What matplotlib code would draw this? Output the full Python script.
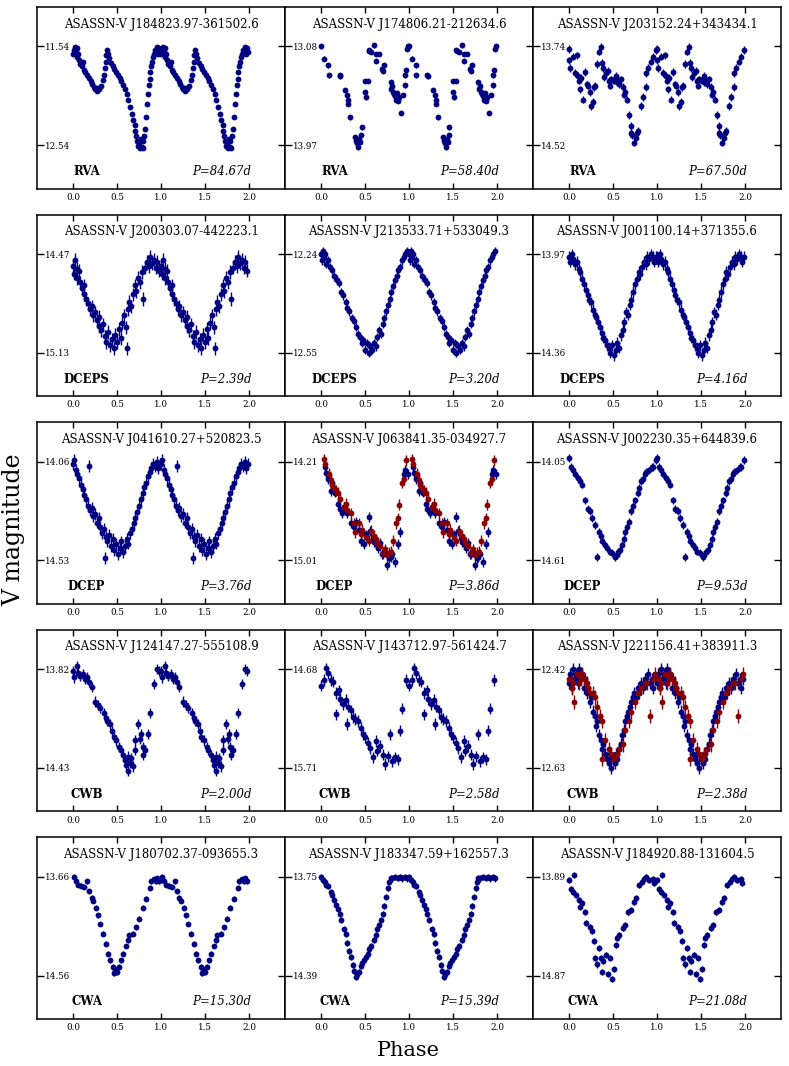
import matplotlib.pyplot as plt
import numpy as np

plt.rcParams['font.family'] = 'DejaVu Serif'

# ---- panel metadata (row by row) ----
star_names = ['ASASSN-V J184823.97-361502.6', 'ASASSN-V J174806.21-212634.6', 'ASASSN-V J203152.24+343434.1',
              'ASASSN-V J200303.07-442223.1', 'ASASSN-V J213533.71+533049.3', 'ASASSN-V J001100.14+371355.6',
              'ASASSN-V J041610.27+520823.5', 'ASASSN-V J063841.35-034927.7', 'ASASSN-V J002230.35+644839.6',
              'ASASSN-V J124147.27-555108.9', 'ASASSN-V J143712.97-561424.7', 'ASASSN-V J221156.41+383911.3',
              'ASASSN-V J180702.37-093655.3', 'ASASSN-V J183347.59+162557.3', 'ASASSN-V J184920.88-131604.5']
var_types = ['RVA', 'RVA', 'RVA', 'DCEPS', 'DCEPS', 'DCEPS', 'DCEP', 'DCEP', 'DCEP',
             'CWB', 'CWB', 'CWB', 'CWA', 'CWA', 'CWA']
periods = [84.67, 58.40, 67.50, 2.39, 3.20, 4.16, 3.76, 3.86, 9.53, 2.00, 2.58, 2.38, 15.30, 15.39, 21.08]
tick_bright = [11.54, 13.08, 13.74, 14.47, 12.24, 13.97, 14.06, 14.21, 14.05, 13.82, 14.68, 12.42, 13.66, 13.75, 13.89]
tick_faint = [12.54, 13.97, 14.52, 15.13, 12.55, 14.36, 14.53, 15.01, 14.61, 14.43, 15.71, 12.63, 14.56, 14.39, 14.87]
mag_errs = [0.02, 0.02, 0.03, 0.045, 0.013, 0.022, 0.028, 0.04, 0.022, 0.032, 0.06, 0.013, 0.022, 0.02, 0.03]

# ---- phased light curves (phase 0-1, drawn twice) ----
ph_01 = [0.00, 0.01, 0.02, 0.03, 0.04, 0.05, 0.06, 0.07, 0.08, 0.10, 0.11, 0.12, 0.14, 0.16, 0.18, 0.20, 0.22, 0.24,
         0.25, 0.27, 0.28, 0.30, 0.32, 0.34, 0.35, 0.36, 0.37, 0.38, 0.39, 0.40, 0.41, 0.43, 0.45, 0.47, 0.49, 0.51,
         0.53, 0.55, 0.57, 0.59, 0.61, 0.63, 0.65, 0.67, 0.68, 0.70, 0.71, 0.72, 0.73, 0.74, 0.75, 0.76, 0.77, 0.78,
         0.79, 0.80, 0.81, 0.82, 0.83, 0.84, 0.85, 0.86, 0.87, 0.88, 0.89, 0.90, 0.91, 0.92, 0.93, 0.94, 0.95, 0.96,
         0.97, 0.98, 0.99]
mag_01 = [11.62, 11.58, 11.55, 11.60, 11.65, 11.56, 11.62, 11.68, 11.72, 11.74, 11.70, 11.78, 11.80, 11.83, 11.86,
          11.89, 11.92, 11.95, 11.97, 11.99, 11.96, 11.97, 11.94, 11.88, 11.83, 11.76, 11.70, 11.63, 11.58, 11.62,
          11.66, 11.71, 11.74, 11.77, 11.80, 11.83, 11.86, 11.89, 11.93, 11.97, 12.02, 12.08, 12.15, 12.22, 12.28,
          12.34, 12.40, 12.45, 12.50, 12.55, 12.52, 12.57, 12.48, 12.56, 12.50, 12.57, 12.45, 12.38, 12.25, 12.12,
          12.02, 11.93, 11.87, 11.80, 11.74, 11.70, 11.65, 11.62, 11.58, 11.60, 11.55, 11.58, 11.62, 11.56, 11.60]

ph_02 = [0.00, 0.035, 0.08, 0.085, 0.21, 0.22, 0.27, 0.30, 0.305, 0.31, 0.325, 0.39, 0.40, 0.41, 0.42, 0.43, 0.44,
         0.455, 0.46, 0.50, 0.505, 0.51, 0.53, 0.54, 0.55, 0.57, 0.60, 0.62, 0.63, 0.66, 0.69, 0.71, 0.72, 0.79,
         0.80, 0.81, 0.82, 0.83, 0.84, 0.85, 0.86, 0.87, 0.88, 0.89, 0.91, 0.93, 0.95, 0.96, 0.97, 0.98, 0.99]
mag_02 = [13.08, 13.19, 13.25, 13.34, 13.34, 13.35, 13.47, 13.52, 13.56, 13.60, 13.72, 13.90, 13.93, 13.95, 13.99,
          13.91, 13.94, 13.88, 13.81, 13.39, 13.49, 13.54, 13.39, 13.11, 13.12, 13.13, 13.07, 13.15, 13.21, 13.15,
          13.28, 13.30, 13.25, 13.40, 13.46, 13.44, 13.49, 13.51, 13.53, 13.56, 13.50, 13.57, 13.55, 13.54, 13.68,
          13.52, 13.43, 13.34, 13.29, 13.10, 13.08]

ph_03 = [0.00, 0.005, 0.01, 0.05, 0.07, 0.09, 0.10, 0.11, 0.13, 0.14, 0.16, 0.18, 0.20, 0.22, 0.24, 0.25, 0.27, 0.28,
         0.30, 0.32, 0.34, 0.36, 0.375, 0.39, 0.42, 0.45, 0.48, 0.51, 0.54, 0.56, 0.59, 0.61, 0.64, 0.66, 0.68, 0.70,
         0.71, 0.72, 0.74, 0.76, 0.77, 0.78, 0.82, 0.84, 0.87, 0.88, 0.90, 0.93, 0.96, 0.99,
         0.40, 0.44, 0.47, 0.53, 0.57, 0.62]
mag_03 = [13.76, 13.85, 13.91, 13.82, 13.95, 13.81, 13.97, 14.01, 14.08, 13.99, 14.16, 13.94, 14.04, 14.05, 14.10,
          14.21, 14.18, 14.06, 14.05, 13.88, 13.78, 13.745, 13.87, 13.91, 13.95, 14.01, 14.00, 14.01, 14.02, 14.01,
          14.00, 14.06, 14.10, 14.16, 14.28, 14.37, 14.42, 14.44, 14.50, 14.46, 14.42, 14.41, 14.21, 14.14, 14.06,
          13.95, 13.91, 13.86, 13.82, 13.77,
          13.98, 13.93, 14.05, 13.97, 14.04, 14.12]

ph_04 = [0.00, 0.01, 0.02, 0.04, 0.05, 0.07, 0.08, 0.10, 0.12, 0.13, 0.15, 0.17, 0.19, 0.21, 0.23, 0.25, 0.27, 0.29,
         0.30, 0.32, 0.34, 0.36, 0.38, 0.40, 0.42, 0.44, 0.46, 0.48, 0.50, 0.52, 0.54, 0.56, 0.58, 0.60, 0.61, 0.62,
         0.64, 0.66, 0.68, 0.70, 0.72, 0.74, 0.76, 0.78, 0.80, 0.82, 0.84, 0.86, 0.88, 0.90, 0.92, 0.94, 0.96, 0.98]
mag_04 = [14.55, 14.60, 14.51, 14.57, 14.63, 14.58, 14.66, 14.70, 14.68, 14.74, 14.77, 14.80, 14.84, 14.82, 14.88,
          14.86, 14.91, 14.95, 14.89, 14.98, 14.94, 15.02, 15.06, 14.99, 15.08, 15.04, 15.10, 15.01, 15.06, 14.97,
          15.03, 14.93, 14.88, 14.96, 15.10, 14.84, 14.79, 14.82, 14.74, 14.68, 14.72, 14.63, 14.66, 14.59, 14.77,
          14.56, 14.52, 14.55, 14.49, 14.53, 14.51, 14.56, 14.52, 14.58]

ph_05 = [0.00, 0.01, 0.02, 0.03, 0.05, 0.06, 0.08, 0.10, 0.12, 0.15, 0.18, 0.20, 0.23, 0.25, 0.28, 0.30, 0.32, 0.35,
         0.37, 0.40, 0.42, 0.44, 0.46, 0.48, 0.50, 0.52, 0.54, 0.56, 0.58, 0.60, 0.62, 0.64, 0.66, 0.68, 0.70, 0.72,
         0.74, 0.76, 0.78, 0.80, 0.82, 0.84, 0.86, 0.88, 0.90, 0.92, 0.94, 0.96, 0.98]
mag_05 = [12.24, 12.26, 12.23, 12.25, 12.24, 12.27, 12.26, 12.28, 12.29, 12.31, 12.32, 12.33, 12.36, 12.37, 12.39,
          12.41, 12.42, 12.44, 12.45, 12.47, 12.49, 12.50, 12.52, 12.51, 12.54, 12.52, 12.55, 12.53, 12.54, 12.52,
          12.53, 12.50, 12.48, 12.49, 12.46, 12.44, 12.42, 12.40, 12.38, 12.36, 12.34, 12.32, 12.31, 12.29, 12.28,
          12.26, 12.25, 12.24, 12.23]

ph_06 = [0.00, 0.01, 0.03, 0.05, 0.07, 0.09, 0.11, 0.13, 0.15, 0.17, 0.19, 0.21, 0.23, 0.25, 0.27, 0.29, 0.31, 0.33,
         0.35, 0.37, 0.39, 0.41, 0.43, 0.45, 0.47, 0.49, 0.51, 0.53, 0.55, 0.57, 0.59, 0.61, 0.63, 0.65, 0.67, 0.69,
         0.71, 0.73, 0.75, 0.77, 0.79, 0.81, 0.83, 0.85, 0.87, 0.89, 0.91, 0.93, 0.95, 0.97, 0.99]
mag_06 = [13.98, 14.00, 13.97, 13.99, 14.01, 14.00, 14.03, 14.04, 14.07, 14.09, 14.11, 14.13, 14.15, 14.16, 14.19,
          14.21, 14.22, 14.24, 14.26, 14.28, 14.30, 14.31, 14.33, 14.34, 14.36, 14.33, 14.37, 14.35, 14.32, 14.34,
          14.29, 14.27, 14.24, 14.20, 14.21, 14.17, 14.15, 14.12, 14.09, 14.07, 14.04, 14.05, 14.02, 14.00, 14.01,
          13.98, 13.99, 13.97, 13.98, 14.00, 13.98]

ph_07 = [0.00, 0.01, 0.03, 0.05, 0.07, 0.09, 0.11, 0.13, 0.15, 0.17, 0.18, 0.19, 0.21, 0.23, 0.25, 0.27, 0.29, 0.31,
         0.33, 0.35, 0.36, 0.37, 0.39, 0.41, 0.43, 0.45, 0.47, 0.49, 0.51, 0.53, 0.55, 0.57, 0.59, 0.61, 0.63, 0.65,
         0.67, 0.69, 0.71, 0.73, 0.75, 0.77, 0.79, 0.81, 0.83, 0.85, 0.87, 0.89, 0.91, 0.93, 0.95, 0.97, 0.99]
mag_07 = [14.07, 14.05, 14.10, 14.12, 14.14, 14.17, 14.19, 14.22, 14.24, 14.27, 14.08, 14.29, 14.28, 14.32, 14.31,
          14.35, 14.33, 14.37, 14.40, 14.38, 14.52, 14.42, 14.44, 14.41, 14.46, 14.43, 14.48, 14.45, 14.50, 14.47,
          14.44, 14.49, 14.46, 14.43, 14.45, 14.40, 14.38, 14.35, 14.33, 14.30, 14.27, 14.24, 14.21, 14.18, 14.16,
          14.13, 14.11, 14.09, 14.07, 14.08, 14.06, 14.09, 14.07]

ph_08 = [0.04, 0.06, 0.09, 0.11, 0.13, 0.16, 0.19, 0.21, 0.24, 0.26, 0.30, 0.34, 0.37, 0.40, 0.43, 0.45, 0.49, 0.51,
         0.54, 0.56, 0.59, 0.62, 0.65, 0.67, 0.69, 0.72, 0.75, 0.77, 0.81, 0.84, 0.87, 0.90, 0.94, 0.96, 0.99,
         0.08, 0.14, 0.28, 0.47, 0.60, 0.79]
mag_08 = [14.25, 14.30, 14.32, 14.45, 14.38, 14.46, 14.55, 14.59, 14.63, 14.58, 14.63, 14.71, 14.74, 14.70, 14.76,
          14.85, 14.88, 14.80, 14.66, 14.77, 14.83, 14.88, 14.91, 14.87, 14.96, 14.94, 15.05, 14.99, 14.96, 15.02,
          14.88, 14.78, 14.31, 14.28, 14.31,
          14.35, 14.42, 14.60, 14.78, 14.86, 14.98]
# second data set (red) for J063841.35-034927.7
ph_08r = [0.03, 0.04, 0.09, 0.13, 0.15, 0.19, 0.22, 0.26, 0.30, 0.34, 0.37, 0.39, 0.43, 0.47, 0.51, 0.54, 0.57, 0.60,
          0.64, 0.67, 0.70, 0.73, 0.77, 0.80, 0.82, 0.85, 0.87, 0.89, 0.92, 0.94, 0.97,
          0.11, 0.17, 0.28, 0.45, 0.62, 0.75]
mag_08r = [14.19, 14.23, 14.31, 14.40, 14.42, 14.46, 14.51, 14.58, 14.60, 14.63, 14.71, 14.78, 14.71, 14.76, 14.82,
           14.85, 14.77, 14.81, 14.87, 14.89, 14.95, 14.92, 14.95, 14.94, 14.85, 14.71, 14.67, 14.56, 14.38, 14.35,
           14.20,
           14.36, 14.44, 14.55, 14.80, 14.84, 14.97]

ph_09 = [0.00, 0.02, 0.04, 0.07, 0.10, 0.12, 0.15, 0.18, 0.21, 0.24, 0.26, 0.29, 0.32, 0.34, 0.36, 0.38, 0.41, 0.43,
         0.46, 0.49, 0.52, 0.54, 0.56, 0.58, 0.60, 0.62, 0.64, 0.66, 0.68, 0.71, 0.73, 0.75, 0.78, 0.80, 0.82, 0.84,
         0.86, 0.88, 0.91, 0.94, 0.96, 0.99]
mag_09 = [14.03, 14.08, 14.10, 14.12, 14.14, 14.16, 14.18, 14.27, 14.32, 14.33, 14.37, 14.41, 14.59, 14.45, 14.47,
          14.50, 14.52, 14.54, 14.56, 14.57, 14.59, 14.58, 14.56, 14.55, 14.52, 14.49, 14.45, 14.42, 14.39, 14.33,
          14.30, 14.27, 14.23, 14.20, 14.16, 14.15, 14.12, 14.11, 14.10, 14.08, 14.08, 14.04]

ph_10 = [0.00, 0.01, 0.04, 0.06, 0.08, 0.11, 0.14, 0.16, 0.18, 0.21, 0.25, 0.28, 0.31, 0.35, 0.37, 0.39, 0.42, 0.44,
         0.46, 0.49, 0.52, 0.54, 0.57, 0.59, 0.60, 0.62, 0.63, 0.65, 0.66, 0.68, 0.70, 0.71, 0.74, 0.76, 0.77, 0.79,
         0.80, 0.82, 0.85, 0.88, 0.92, 0.95, 0.98]
mag_10 = [13.83, 13.87, 13.80, 13.84, 13.86, 13.85, 13.88, 13.87, 13.90, 13.93, 14.02, 14.04, 14.06, 14.09, 14.12,
          14.14, 14.16, 14.20, 14.24, 14.26, 14.30, 14.32, 14.35, 14.38, 14.41, 14.36, 14.45, 14.40, 14.37, 14.42,
          14.32, 14.26, 14.16, 14.25, 14.22, 14.30, 14.35, 14.32, 14.22, 14.09, 13.91, 13.82, 13.83]

ph_11 = [0.00, 0.03, 0.06, 0.08, 0.11, 0.14, 0.17, 0.17, 0.20, 0.22, 0.25, 0.28, 0.29, 0.31, 0.34, 0.36, 0.39, 0.42,
         0.45, 0.48, 0.50, 0.53, 0.56, 0.59, 0.62, 0.64, 0.67, 0.70, 0.73, 0.76, 0.78, 0.81, 0.84, 0.87, 0.90, 0.92,
         0.97]
mag_11 = [14.85, 14.79, 14.67, 14.72, 14.79, 14.81, 14.93, 15.15, 14.90, 14.99, 15.04, 15.00, 15.25, 15.07, 15.11,
          15.18, 15.20, 15.22, 15.29, 15.36, 15.39, 15.45, 15.50, 15.60, 15.43, 15.53, 15.48, 15.57, 15.67, 15.59,
          15.36, 15.64, 15.60, 15.62, 15.32, 15.09, 14.79]

ph_12 = [0.00, 0.01, 0.03, 0.05, 0.06, 0.08, 0.10, 0.11, 0.13, 0.15, 0.17, 0.18, 0.20, 0.22, 0.24, 0.25, 0.27, 0.29,
         0.31, 0.32, 0.34, 0.36, 0.38, 0.39, 0.41, 0.43, 0.45, 0.46, 0.48, 0.50, 0.52, 0.53, 0.55, 0.57, 0.59, 0.60,
         0.62, 0.64, 0.66, 0.67, 0.69, 0.71, 0.73, 0.74, 0.76, 0.78, 0.80, 0.82, 0.84, 0.86, 0.88, 0.90, 0.92, 0.94,
         0.96, 0.98]
mag_12 = [12.45, 12.43, 12.46, 12.42, 12.44, 12.43, 12.45, 12.42, 12.44, 12.43, 12.46, 12.44, 12.47, 12.46, 12.49,
          12.48, 12.51, 12.52, 12.54, 12.53, 12.56, 12.57, 12.59, 12.58, 12.60, 12.61, 12.62, 12.60, 12.63, 12.61,
          12.62, 12.60, 12.61, 12.59, 12.58, 12.56, 12.55, 12.53, 12.52, 12.51, 12.50, 12.49, 12.48, 12.47, 12.48,
          12.46, 12.47, 12.45, 12.46, 12.44, 12.45, 12.43, 12.45, 12.44, 12.46, 12.44]
# second data set (red) for J221156.41+383911.3
ph_12r = [0.00, 0.02, 0.03, 0.05, 0.06, 0.09, 0.11, 0.14, 0.15, 0.17, 0.20, 0.22, 0.24, 0.27, 0.29, 0.32, 0.35, 0.37,
          0.38, 0.41, 0.45, 0.48, 0.51, 0.54, 0.57, 0.61, 0.64, 0.68, 0.71, 0.75, 0.78, 0.82, 0.86, 0.89, 0.92, 0.95,
          0.98]
mag_12r = [12.44, 12.44, 12.46, 12.45, 12.49, 12.43, 12.45, 12.44, 12.43, 12.44, 12.45, 12.46, 12.47, 12.47, 12.48,
           12.50, 12.52, 12.53, 12.61, 12.57, 12.59, 12.60, 12.61, 12.60, 12.59, 12.58, 12.55, 12.53, 12.51, 12.49,
           12.47, 12.46, 12.45, 12.45, 12.52, 12.44, 12.43]

ph_13 = [0.01, 0.03, 0.06, 0.09, 0.13, 0.16, 0.18, 0.21, 0.23, 0.26, 0.28, 0.31, 0.34, 0.37, 0.40, 0.42, 0.45, 0.47,
         0.48, 0.50, 0.52, 0.55, 0.57, 0.60, 0.62, 0.64, 0.68, 0.72, 0.75, 0.79, 0.83, 0.87, 0.89, 0.92, 0.94, 0.96,
         0.98]
mag_13 = [13.66, 13.70, 13.73, 13.74, 13.75, 13.70, 13.79, 13.85, 13.88, 13.94, 14.01, 14.09, 14.18, 14.27, 14.36,
          14.42, 14.48, 14.54, 14.50, 14.53, 14.48, 14.42, 14.36, 14.29, 14.24, 14.19, 14.18, 14.12, 14.04, 13.94,
          13.86, 13.76, 13.70, 13.68, 13.70, 13.67, 13.70]

ph_14 = [0.00, 0.02, 0.04, 0.06, 0.08, 0.11, 0.13, 0.15, 0.17, 0.19, 0.21, 0.23, 0.26, 0.28, 0.30, 0.32, 0.34, 0.36,
         0.38, 0.40, 0.41, 0.43, 0.45, 0.47, 0.49, 0.51, 0.53, 0.55, 0.57, 0.60, 0.62, 0.64, 0.66, 0.68, 0.70, 0.72,
         0.74, 0.76, 0.77, 0.79, 0.81, 0.84, 0.87, 0.90, 0.92, 0.95, 0.98]
mag_14 = [13.75, 13.77, 13.78, 13.80, 13.81, 13.85, 13.87, 13.90, 13.93, 13.96, 13.99, 14.03, 14.09, 14.12, 14.18,
          14.23, 14.27, 14.32, 14.36, 14.40, 14.38, 14.37, 14.33, 14.31, 14.29, 14.27, 14.25, 14.22, 14.20, 14.16,
          14.13, 14.09, 14.06, 14.03, 13.99, 13.94, 13.88, 13.82, 13.78, 13.76, 13.76, 13.75, 13.755, 13.75, 13.76,
          13.75, 13.76]

ph_15 = [0.00, 0.02, 0.05, 0.06, 0.08, 0.11, 0.13, 0.15, 0.18, 0.19, 0.24, 0.26, 0.28, 0.30, 0.32, 0.34, 0.36, 0.38,
         0.39, 0.42, 0.44, 0.47, 0.49, 0.51, 0.53, 0.55, 0.57, 0.61, 0.64, 0.67, 0.70, 0.74, 0.76, 0.80, 0.83, 0.85,
         0.88, 0.91, 0.95, 0.97]
mag_15 = [13.92, 14.01, 14.04, 13.87, 14.07, 14.12, 14.19, 14.15, 14.24, 14.35, 14.39, 14.43, 14.53, 14.70, 14.76,
          14.60, 14.70, 14.83, 14.73, 14.67, 14.85, 14.70, 14.90, 14.80, 14.57, 14.50, 14.47, 14.40, 14.37, 14.24,
          14.22, 14.14, 14.10, 13.97, 13.94, 13.91, 13.89, 13.92, 13.91, 13.95]

curves = [(ph_01, mag_01), (ph_02, mag_02), (ph_03, mag_03), (ph_04, mag_04), (ph_05, mag_05),
          (ph_06, mag_06), (ph_07, mag_07), (ph_08, mag_08), (ph_09, mag_09), (ph_10, mag_10),
          (ph_11, mag_11), (ph_12, mag_12), (ph_13, mag_13), (ph_14, mag_14), (ph_15, mag_15)]
extra_curves = {7: (ph_08r, mag_08r, 0.045), 11: (ph_12r, mag_12r, 0.015)}

BLUE = '#000080'
RED = '#8b0000'


def plot_folded(ax, phase, mag, err, color):
    """Draw a phased light curve over two cycles."""
    phase = np.asarray(phase)
    mag = np.asarray(mag)
    x = np.concatenate([phase, phase + 1])
    y = np.concatenate([mag, mag])
    ax.errorbar(x, y, yerr=err, fmt='o', color=color, ecolor=color, ms=4.2,
                mew=0, elinewidth=1.0, capsize=0)


fig = plt.figure(figsize=(7.89, 10.66), dpi=100)
gs = fig.add_gridspec(5, 3, left=37 / 789, right=781 / 789, top=1 - 7 / 1066, bottom=47 / 1066,
                      wspace=0, hspace=26 / 181.5)

for i in range(15):
    ax = fig.add_subplot(gs[i // 3, i % 3])
    ph, mg = curves[i]
    plot_folded(ax, ph, mg, mag_errs[i], BLUE)
    if i in extra_curves:
        ph_r, mg_r, err_r = extra_curves[i]
        plot_folded(ax, ph_r, mg_r, err_r, RED)

    # y range: brightest/faintest ticks, with room for the labels
    span = tick_faint[i] - tick_bright[i]
    ax.set_ylim(tick_faint[i] + 0.44 * span, tick_bright[i] - 0.40 * span)
    ax.set_xlim(-0.41, 2.41)

    ax.set_yticks([tick_bright[i], tick_faint[i]])
    ax.set_yticklabels(['%.2f' % tick_bright[i], '%.2f' % tick_faint[i]])
    ax.set_xticks([0.0, 0.5, 1.0, 1.5, 2.0])
    ax.tick_params(axis='y', direction='in', length=5, width=1, left=True, right=True,
                   labelsize=6.3, pad=-6)
    for lab in ax.get_yticklabels():
        lab.set_horizontalalignment('left')
    ax.tick_params(axis='x', direction='in', length=4, width=1, top=True, bottom=True,
                   labelsize=6.3, pad=3)
    for sp in ax.spines.values():
        sp.set_linewidth(1.1)

    ax.text(0.5, 0.906, star_names[i], transform=ax.transAxes, ha='center', va='center', fontsize=8.5)
    ax.text(0.2, 0.094, var_types[i], transform=ax.transAxes, ha='center', va='center',
            fontsize=8.5, fontweight='bold')
    ax.text(0.865, 0.094, 'P=%.2fd' % periods[i], transform=ax.transAxes, ha='right', va='center',
            fontsize=8.5, style='italic')

fig.text(0.018, 0.503, 'V magnitude', rotation=90, ha='center', va='center', fontsize=17)
fig.text(0.518, 0.015, 'Phase', ha='center', va='center', fontsize=15)

plt.savefig('out.png', dpi=100)
